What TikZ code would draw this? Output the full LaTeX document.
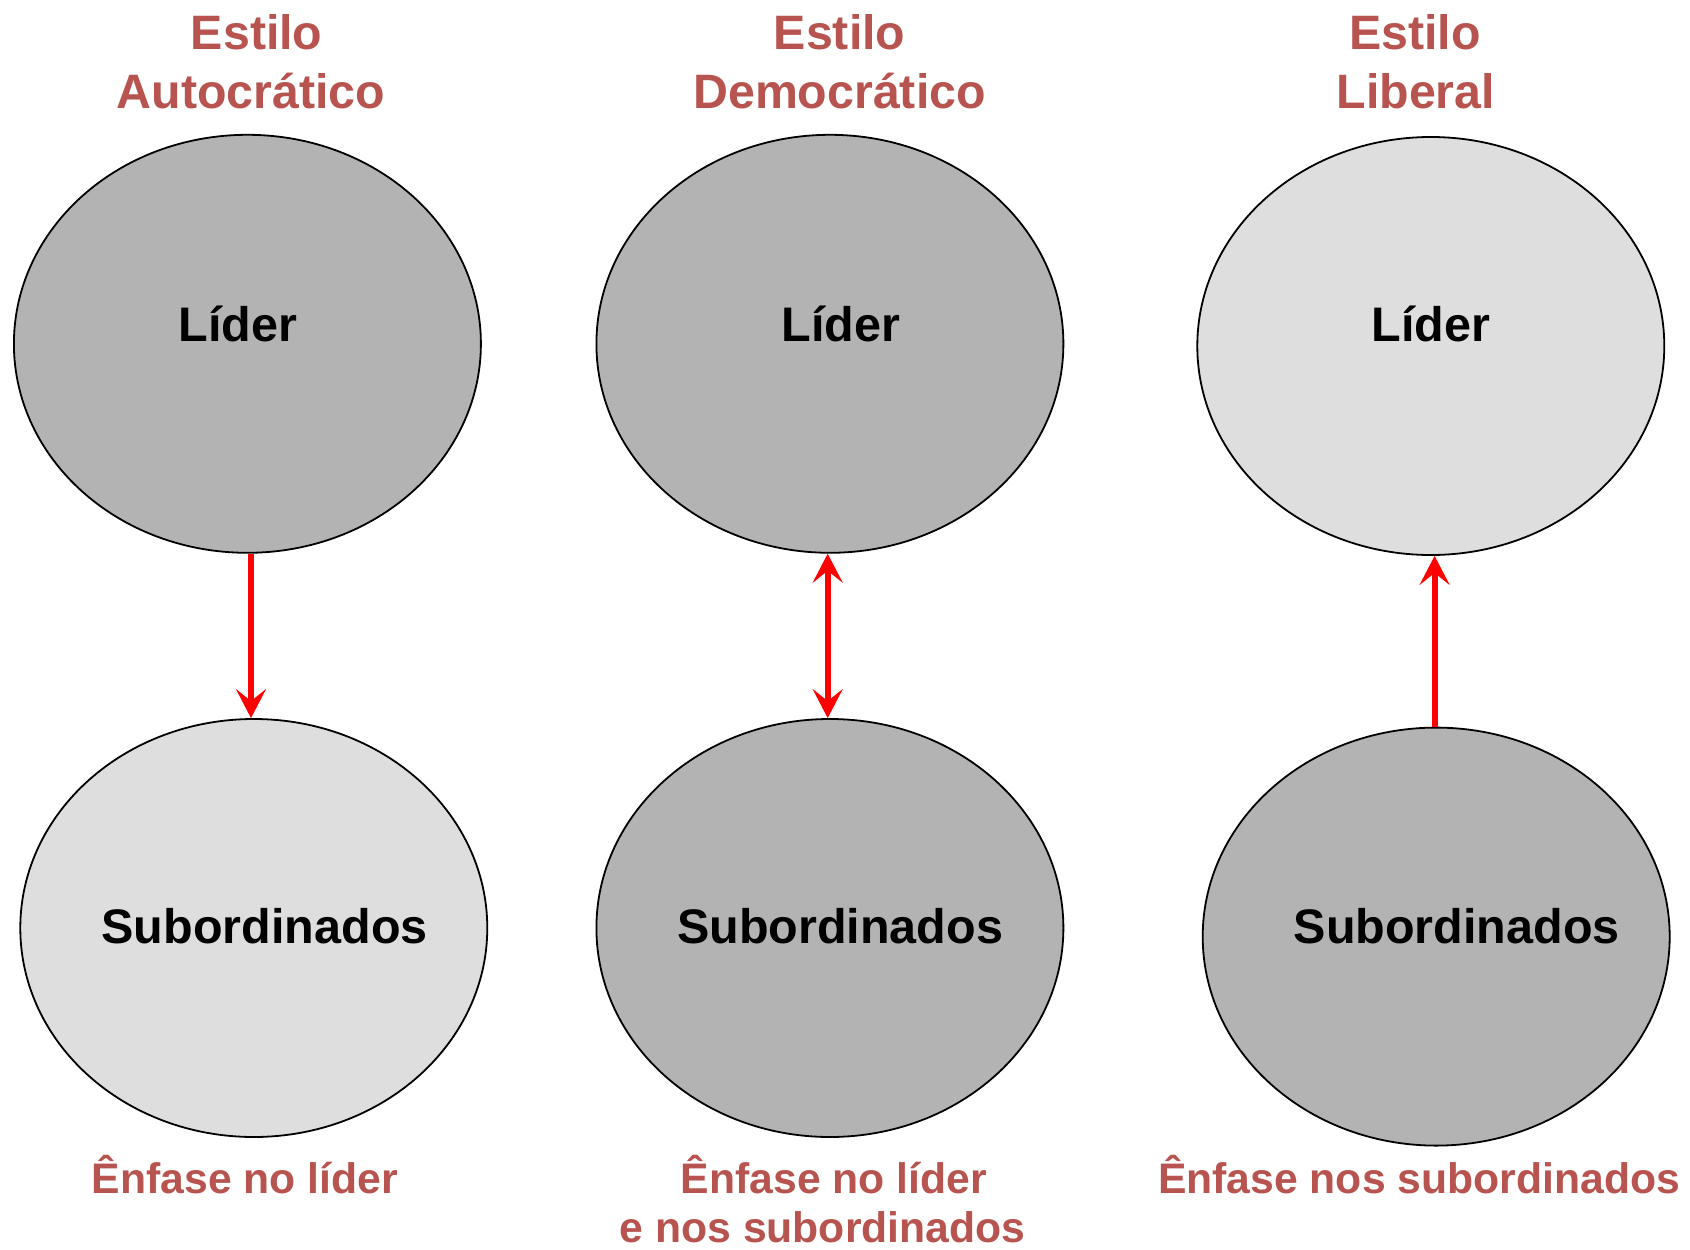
\documentclass[tikz,border=0pt]{standalone}
\usepackage{fontspec}
\setmainfont{Liberation Sans}
\usetikzlibrary{shapes.geometric,arrows.meta}
\definecolor{dgray}{HTML}{B3B3B3}
\definecolor{lgray}{HTML}{DEDEDE}
\definecolor{tred}{HTML}{B85450}
\definecolor{ared}{HTML}{FF0000}
\begin{document}
\begin{tikzpicture}[x=1pt,y=-1pt,
  oval/.style={ellipse,draw=black,line width=1.8pt,inner sep=0pt,minimum width=467pt,minimum height=418pt},
  darkoval/.style={oval,fill=dgray},
  lightoval/.style={oval,fill=lgray},
  inner/.style={anchor=base,inner sep=0pt,font=\fontsize{48.5}{56}\selectfont\bfseries,text=black},
  title/.style={anchor=base,inner sep=0pt,font=\fontsize{48.3}{56}\selectfont\bfseries,text=tred},
  note/.style={anchor=base,inner sep=0pt,font=\fontsize{42.7}{49}\selectfont\bfseries,text=tred},
  arr/.style={draw=ared,line width=5.8pt,-{Stealth[length=29pt,width=30pt,inset=12pt]}},
  darr/.style={draw=ared,line width=5.8pt,{Stealth[length=29pt,width=30pt,inset=12pt]}-{Stealth[length=29pt,width=30pt,inset=12pt]}}
]
\useasboundingbox[fill=white] (0,0) rectangle (1690,1250);

% ellipses
\node[darkoval]  (lt) at (247.4,343.8) {};
\node[lightoval] (lb) at (253.8,928) {};
\node[darkoval]  (mt) at (829.9,343.8) {};
\node[darkoval]  (mb) at (829.9,928) {};
\node[lightoval] (rt) at (1430.8,346) {};
\node[darkoval]  (rb) at (1436.2,936.6) {};

% inner texts
\node[inner] (ltx) at (238,341) {Líder};
\node[inner] (lbx) at (264.6,943) {Subordinados};
\node[inner] (mtx) at (841,341) {Líder};
\node[inner] (mbx) at (840.1,943) {Subordinados};
\node[inner] (rtx) at (1430.8,341) {Líder};
\node[inner] (rbx) at (1456.7,943) {Subordinados};

% titles
\node[title] (t1a) at (256.7,49) {Estilo};
\node[title] (t1b) at (250.8,108) {Autocrático};
\node[title] (t2a) at (839.6,49) {Estilo};
\node[title] (t2b) at (839.6,108) {Democrático};
\node[title] (t3a) at (1415,49) {Estilo};
\node[title] (t3b) at (1415.8,108) {Liberal};

% notes
\node[note] (n1) at (245,1193.5) {Ênfase no líder};
\node[note] (n2a) at (834,1193.5) {Ênfase no líder};
\node[note] (n2b) at (822.5,1242.5) {e nos subordinados};
\node[note] (n3) at (1419,1193.5) {Ênfase nos subordinados};

% arrows
\draw[arr] ([xshift=3.6pt]lt.south) -- ([xshift=3.6pt]lt.south |- lb.north);
\draw[darr] ([xshift=-2.2pt]mt.south) -- ([xshift=-2.2pt]mt.south |- mb.north);
\draw[arr] ([xshift=-1.6pt]rb.north) -- ([xshift=-1.6pt]rb.north |- rt.south);
\end{tikzpicture}
\end{document}
